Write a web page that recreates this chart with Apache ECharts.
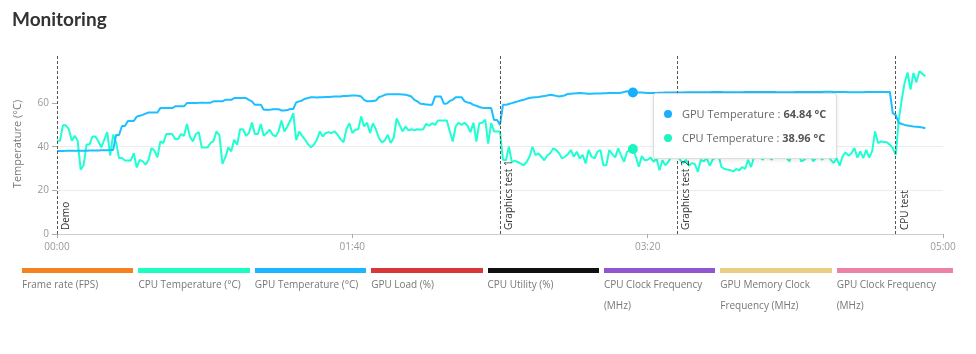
<!DOCTYPE html>
<html>
<head>
<meta charset="utf-8">
<script src="https://cdn.jsdelivr.net/npm/echarts@6/dist/echarts.min.js"></script>
<style>
  html, body { margin: 0; padding: 0; background: #fff; }
  #wrap { position: relative; width: 976px; height: 354px; overflow: hidden; }
  #chart { position: absolute; left: 0; top: 0; width: 976px; height: 354px; }
  .legend { position: absolute; left: 22px; top: 268px; width: 931px; display: flex; font-family: 'Open Sans', sans-serif; }
  .legend-item { flex: 1 1 0; }
  .legend-bar { height: 5px; margin-right: 5px; }
  .legend-item:last-child .legend-bar { margin-right: 0; }
  .legend-label { font-size: 10px; line-height: 21px; color: #777; padding-right: 5px; margin-top: 1px; }
</style>
</head>
<body>
<div id="wrap">
  <div id="chart"></div>
  <div class="legend" id="legend"></div>
</div>
<script>
const FONT = "'Open Sans', sans-serif";

// one sample per second, from 00:00
const STEP_SECONDS = 1;

const cpuTemperature = [
  42.7, 42.7, 49.8, 49.8, 48, 42.7, 45, 42.7, 29.5, 31.5,
  41, 41, 44.7, 44.7, 42.5, 39.7, 43.2, 46.7, 35.9, 45.5,
  42, 34.8, 34.8, 33.7, 33.7, 33.7, 37, 30.5, 34, 33.3,
  31.8, 34, 39.4, 38.2, 35.1, 42.4, 41.7, 45.8, 45.8, 45.8,
  43.5, 43.5, 45.8, 45, 50.4, 44.7, 42.4, 45.8, 46.7, 39.7,
  39.7, 39.7, 41.7, 42.7, 47, 45.2, 32.2, 35.1, 39.7, 37.9,
  43.2, 40.9, 48, 48, 45, 46.3, 51.1, 45.8, 45.8, 50.4,
  45, 46.3, 47.8, 45.5, 44.7, 47, 52, 47, 49.3, 52,
  55.4, 43, 47, 45, 43.2, 41.2, 39.7, 41, 43.2, 47,
  44.7, 46.3, 46.6, 46.3, 47, 45.5, 43.5, 42, 48, 50.8,
  46.3, 47.8, 48, 53.9, 49.3, 51, 46.3, 50.8, 47.8, 44,
  42, 42.9, 45.5, 41.7, 44, 53, 50, 47, 49.3, 47.5,
  48, 47.5, 48, 47.8, 48, 50.5, 49.6, 50.8, 50, 52,
  52, 52, 52, 47, 42.4, 49.3, 51, 50, 51, 49.6,
  46.6, 51, 42.4, 50.8, 51, 52.4, 41.4, 50.8, 47, 47,
  47, 34, 33.8, 40, 33, 33.5, 33, 32.3, 31.5, 33,
  35.4, 40, 36.2, 37, 35.4, 33.8, 36, 37, 39.2, 38.5,
  37, 34.6, 35.4, 36.6, 38.5, 35.4, 37.7, 34.6, 36.2, 32.3,
  38.5, 35.4, 34.6, 37.7, 38.5, 31.5, 31.5, 38.5, 36.6, 35.1,
  39.2, 36, 33.1, 37.7, 38.5, 38.96, 35.4, 30.8, 35.7, 33.8,
  34, 35, 33.1, 34.6, 29.2, 33.8, 31.5, 33.1, 35.4, 38,
  36, 34, 32.5, 34, 31.3, 32.5, 32, 28.5, 34, 33.3,
  34.8, 31.3, 34, 35.3, 36, 30.7, 29.8, 29.5, 29.2, 28.7,
  29.8, 29.2, 30.7, 29.8, 34, 30.7, 35.3, 37, 35.3, 34,
  37, 35.3, 34, 37, 36, 38, 36, 34.8, 33.3, 37,
  35.3, 37, 33.3, 34, 35.3, 37, 33.3, 34.8, 37, 34,
  35.3, 36, 34, 32.5, 34.8, 31.3, 35.6, 37.4, 35.9, 37,
  39.4, 35, 37.9, 34.8, 38.6, 35, 37.9, 47, 41.7, 42.4,
  42.2, 42, 40.9, 39.4, 36.3, 52, 61.5, 69.2, 74, 66.2,
  73.8, 69.5, 74.6, 73.5, 72.3
];

const gpuTemperature = [
  38.0, 38.0, 38.0, 38.1, 38.1, 38.1, 38.1, 38.2, 38.2, 38.2,
  38.2, 38.3, 38.3, 38.3, 38.3, 38.4, 38.4, 38.4, 38.5, 38.5,
  45.4, 45.4, 49.5, 49.5, 51.8, 51.8, 51.8, 53.8, 54.2, 54.6,
  55.2, 55.7, 55.7, 55.7, 55.7, 57.7, 57.7, 57.7, 57.7, 57.7,
  58.5, 58.5, 58.5, 58.5, 60, 60, 60, 60, 60.1, 60.1,
  60.1, 60.2, 60.2, 60.8, 60.8, 60.8, 60.8, 61.5, 61.5, 61.5,
  62.3, 62.3, 62.3, 62.3, 62.3, 61.5, 60.8, 59.2, 59.2, 59.2,
  56.9, 56.9, 56.9, 57.2, 57.2, 57.2, 56.6, 56.6, 56.8, 57.3,
  57.3, 60.3, 60.8, 61.2, 62, 62.3, 62.7, 62.7, 62.6, 62.7,
  62.7, 62.8, 62.8, 62.9, 63, 63, 63, 63.2, 63.3, 63.4,
  63.5, 63.5, 63.4, 63, 61.5, 60.8, 60.8, 61, 61.2, 62.7,
  63.2, 63.8, 64, 64, 64, 64, 64, 63.9, 63.8, 63.5,
  63, 61.5, 60.8, 59.7, 59.6, 59.4, 59.2, 59.2, 63, 63,
  63, 59.7, 59.8, 61, 61.5, 62.7, 62.7, 62.7, 60.8, 60.3,
  60, 59.2, 58.8, 58.2, 57.9, 57.7, 57.7, 57.7, 52.3, 52.3,
  50, 59.2, 59.2, 59.6, 60, 60.4, 60.8, 61.2, 61.5, 62,
  62.3, 62.6, 62.7, 62.8, 63, 63.2, 63.5, 63.8, 63.6, 63.3,
  63, 63.2, 63.6, 64.2, 64.3, 64.4, 64.5, 64.6, 64.5, 64.4,
  64.3, 64.3, 64.4, 64.4, 64.4, 64.5, 64.5, 64.6, 64.6, 64.6,
  64.6, 64.7, 65.1, 65.4, 65.2, 64.84, 64.9, 64.9, 64.8, 64.7,
  64.6, 64.6, 64.6, 64.6, 64.7, 64.7, 64.8, 64.8, 64.8, 64.9,
  64.9, 64.9, 64.9, 65, 65, 65, 65, 65, 65, 65,
  65, 65, 65.1, 65.1, 65.1, 65.1, 65, 65, 65, 65,
  65, 65, 65, 65.1, 65.1, 65.1, 65.1, 65.1, 65.1, 65.1,
  65.1, 65.1, 65.1, 65.1, 65, 65, 65, 65, 65, 65,
  65.1, 65.1, 65.1, 65.1, 65.1, 65.1, 65.1, 65.1, 65.1, 65.1,
  65.2, 65.2, 65.2, 65.1, 65.1, 65.1, 65.1, 65.1, 65, 65,
  65, 65, 65, 65, 65.1, 65.1, 65.1, 65.1, 65.1, 65.1,
  65.1, 65.1, 65.1, 55.4, 54.5, 51, 50.4, 50, 49.7, 49.5,
  49.3, 49.2, 49, 48.8, 48.5
];

// test phase markers (seconds)
const markerNames = ['Demo', 'Graphics test 1', 'Graphics test 2', 'CPU test'];
const markerSeconds = [0, 150, 210, 284];

const yLabelValues = [0, 20, 40, 60];

const legendNames = [
  'Frame rate (FPS)', 'CPU Temperature (°C)', 'GPU Temperature (°C)', 'GPU Load (%)',
  'CPU Utility (%)', 'CPU Clock Frequency (MHz)', 'GPU Memory Clock Frequency (MHz)', 'GPU Clock Frequency (MHz)'
];
const legendColors = ['#f58220', '#1affc1', '#1ab6ff', '#d9363a', '#111111', '#9156cf', '#e8cd82', '#ed82a8'];

const CPU_COLOR = '#1df5bf';
const GPU_COLOR = '#1aaeff';

// sample the tooltip is pinned to
const hoverIndex = 195;

document.getElementById('legend').innerHTML = legendNames.map((name, i) => `
  <div class="legend-item">
    <div class="legend-bar" style="background:${legendColors[i]}"></div>
    <div class="legend-label">${name}</div>
  </div>`).join('');

const toSeries = (arr) => arr.map((v, i) => [i * STEP_SECONDS, v]);
const pad = (n) => String(n).padStart(2, '0');

const chart = echarts.init(document.getElementById('chart'));

const option = {
  animation: false,
  title: {
    text: 'Monitoring',
    left: 12,
    top: 10,
    padding: 0,
    textStyle: { fontFamily: 'Lato', fontWeight: 'bold', fontSize: 19, color: '#333' }
  },
  grid: { left: 57, right: 33, top: 54, bottom: 120 },
  xAxis: {
    type: 'value',
    min: 0,
    max: 300,
    interval: 100,
    axisLine: { lineStyle: { color: '#ccc' } },
    axisTick: { show: true, length: 4, lineStyle: { color: '#aaa' } },
    axisLabel: {
      color: '#999',
      fontSize: 10,
      fontFamily: FONT,
      formatter: (v) => pad(Math.floor(v / 60)) + ':' + pad(v % 60)
    },
    splitLine: { show: false }
  },
  yAxis: {
    type: 'value',
    min: 0,
    max: 82.5,
    interval: 10,
    name: 'Temperature (°C)',
    nameLocation: 'middle',
    nameGap: 34,
    nameTextStyle: { color: '#777', fontSize: 11, fontFamily: FONT },
    axisLine: { show: false },
    axisTick: { show: true, length: 5, lineStyle: { color: '#aaa' }, customValues: yLabelValues },
    axisLabel: { color: '#999', fontSize: 10, fontFamily: FONT, customValues: yLabelValues },
    splitLine: { lineStyle: { color: '#ececec' }, showMaxLine: false }
  },
  tooltip: {
    trigger: 'axis',
    triggerOn: 'none',
    alwaysShowContent: true,
    axisPointer: { type: 'line', lineStyle: { opacity: 0 } },
    backgroundColor: '#fff',
    borderColor: '#ddd',
    borderWidth: 1,
    borderRadius: 3,
    padding: [8, 10],
    extraCssText: 'box-shadow: 0 1px 4px rgba(0,0,0,0.1);',
    textStyle: { fontFamily: FONT, fontSize: 11, color: '#666' },
    position: () => {
      const p = chart.convertToPixel({ gridIndex: 0 }, [hoverIndex * STEP_SECONDS, gpuTemperature[hoverIndex]]);
      return [p[0] + 20, p[1]];
    },
    formatter: (params) => ['GPU Temperature', 'CPU Temperature']
      .map((name) => params.find((p) => p.seriesName === name))
      .filter(Boolean)
      .map((p) => `<div style="line-height:24px;white-space:nowrap;">` +
        `<span style="display:inline-block;width:8px;height:8px;border-radius:50%;background:${p.color};margin-right:10px;vertical-align:middle;position:relative;top:-1px;"></span>` +
        `${p.seriesName} : <b style="color:#555;">${p.value[1].toFixed(2)} °C</b></div>`)
      .join('')
  },
  series: [
    {
      name: 'CPU Temperature',
      type: 'line',
      data: toSeries(cpuTemperature),
      showSymbol: false,
      symbol: 'circle',
      symbolSize: 10,
      lineStyle: { width: 2, color: CPU_COLOR },
      itemStyle: { color: CPU_COLOR },
      emphasis: { scale: false, lineStyle: { width: 2 } },
      markLine: {
        silent: true,
        symbol: 'none',
        animation: false,
        lineStyle: { color: '#555', type: [3, 2], width: 1 },
        label: {
          show: true,
          position: 'insideStartBottom',
          formatter: '{b}',
          color: '#333',
          fontSize: 10,
          fontFamily: FONT,
          distance: 4
        },
        emphasis: { disabled: true },
        data: markerSeconds.map((s, i) => ({ name: markerNames[i], xAxis: s }))
      }
    },
    {
      name: 'GPU Temperature',
      type: 'line',
      data: toSeries(gpuTemperature),
      showSymbol: false,
      symbol: 'circle',
      symbolSize: 10,
      lineStyle: { width: 2, color: GPU_COLOR },
      itemStyle: { color: GPU_COLOR },
      emphasis: { scale: false, lineStyle: { width: 2 } }
    }
  ]
};

chart.setOption(option);
chart.dispatchAction({ type: 'showTip', seriesIndex: 1, dataIndex: hoverIndex });
</script>
</body>
</html>
